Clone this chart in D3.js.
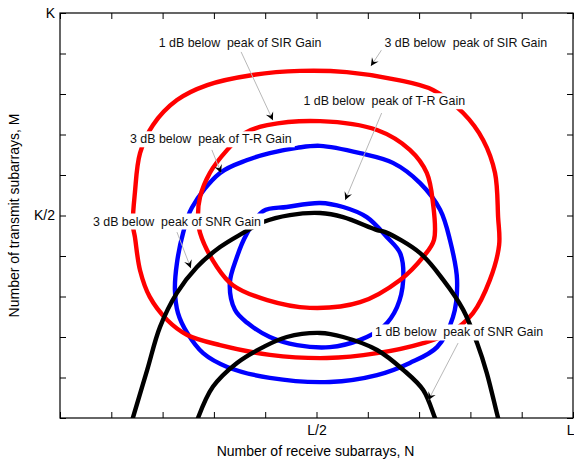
<!DOCTYPE html>
<html>
<head>
<meta charset="utf-8">
<script src="https://cdn.jsdelivr.net/npm/d3@7"></script>
<style>
  body { margin: 0; background: #fff; }
  svg { font-family: "Liberation Sans", Arial, sans-serif; }
</style>
</head>
<body>
<div id="chart"></div>
<script>
// N and M in percent of L and K
const xTickValues = [0, 10, 20, 30, 40, 50, 60, 70, 80, 90, 100];
const yTickValues = [0, 10, 20, 30, 40, 50, 60, 70, 80, 90, 100];
const xTickLabels = { 50: "L/2", 100: "L" };
const yTickLabels = { 50: "K/2", 100: "K" };

// 3 dB below peak of SIR gain
const redOuter = [[14.2,47.7],[14.6,55.6],[15.6,65.4],[18.1,72.3],[22.8,78.5],[28.7,82.2],[37.6,84.7],[46.8,85.7],
  [55.9,85.4],[65.7,83.5],[72.7,81.0],[78.6,75.3],[82.5,68.6],[84.8,60.5],[85.4,49.6],[85.6,42.7],[83.8,34.1],
  [80.5,25.9],[76.0,21.0],[70.8,18.5],[61.8,16.0],[52.0,14.8],[40.9,15.6],[31.2,18.0],[24.8,20.5],[20.9,24.2],
  [17.5,29.9],[15.6,36.5],[14.6,44.7]];
// 1 dB below peak of SIR gain
const redInner = [[26.9,50.1],[27.3,54.6],[29.2,60.5],[32.6,66.2],[36.1,70.4],[40.4,72.3],[50.7,73.3],[61.8,71.1],
  [68.2,66.2],[71.5,60.5],[72.7,53.1],[72.9,44.0],[70.8,39.8],[66.3,34.1],[58.5,28.6],[48.7,27.2],[40.4,29.1],
  [33.7,32.8],[30.6,37.3],[27.3,45.7]];
// 3 dB below peak of T-R gain
const blueOuter = [[22.4,31.6],[22.8,38.3],[24.0,45.7],[25.7,51.9],[31.2,60.5],[36.5,63.7],[40.9,65.4],[46.2,66.7],
  [50.7,67.2],[58.5,65.4],[64.9,63.0],[70.2,58.0],[74.1,51.4],[76.0,44.0],[77.4,34.1],[76.6,24.9],[73.5,17.5],
  [68.2,13.6],[61.8,10.6],[52.6,8.9],[40.9,9.9],[32.6,12.6],[27.9,16.0],[24.8,21.0],[23.0,25.9]];
// 1 dB below peak of T-R gain
const blueInner = [[33.1,33.3],[34.5,39.8],[36.3,45.2],[39.6,51.1],[44.2,52.1],[50.7,53.1],[55.2,52.1],[59.8,49.6],
  [63.7,44.7],[66.3,40.7],[66.9,34.1],[65.7,27.4],[63.0,22.5],[58.5,19.3],[52.6,17.5],[46.2,18.0],[40.9,20.0],
  [36.5,23.5],[34.1,26.7]];
// 3 dB below peak of SNR gain
const blackOuter = [[13.8,-1.7],[14.2,0],[17.0,11.9],[19.5,22.5],[22.8,30.9],[26.7,37.3],[31.2,42.2],[35.7,45.7],
  [39.6,48.4],[44.8,50.1],[50.7,50.6],[55.2,49.6],[61.8,46.4],[63.4,45.9],[70.2,40.7],[74.7,34.1],[78.6,26.7],
  [81.3,18.5],[83.2,11.1],[85.4,0],[85.8,-1.7]];
// 1 dB below peak of SNR gain
const blackInner = [[26.5,-1.7],[26.9,0],[29.8,7.7],[34.5,13.6],[39.6,17.5],[44.2,20.0],[50.7,21.0],[55.2,20.0],
  [61.8,16.8],[66.9,11.9],[70.8,6.9],[73.1,0],[73.7,-1.7]];

const labelTexts = ["1 dB below  peak of SIR Gain", "3 dB below  peak of SIR Gain", "1 dB below  peak of T-R Gain",
  "3 dB below  peak of T-R Gain", "3 dB below  peak of SNR Gain", "1 dB below  peak of SNR Gain"];
const labelAt = [[35.1,92.6],[79.1,92.8],[63.2,78.3],[29.4,68.9],[22.8,48.6],[77.8,21.2]];
const arrowFrom = [[35.3,90.4],[62.7,90.9],[62.7,75.3],[29.6,66.2],[22.8,45.9],[77.6,18.5]];
const arrowTip = [[41.5,73.5],[60.6,86.9],[55.6,53.8],[31.4,60.5],[25.5,37.0],[71.8,4.4]];

const W = 574, H = 462;
const margin = { top: 13, right: 1, bottom: 44, left: 60 };
const innerW = W - margin.left - margin.right;
const innerH = H - margin.top - margin.bottom;

const svg = d3.select("#chart").append("svg")
    .attr("width", W)
    .attr("height", H);

const g = svg.append("g")
    .attr("transform", `translate(${margin.left},${margin.top})`);

const x = d3.scaleLinear().domain([0, 100]).range([0, innerW]);
const y = d3.scaleLinear().domain([0, 100]).range([innerH, 0]);

g.append("clipPath").attr("id", "clip")
  .append("rect").attr("width", innerW).attr("height", innerH);

// axes, ticks pointing inward
const axisStyle = sel => {
    sel.selectAll("path.domain").remove();
    sel.selectAll("line").attr("stroke", "#000");
    sel.selectAll("text").style("font-size", "14px").attr("fill", "#000");
};

const xAxisG = g.append("g").attr("transform", `translate(0,${innerH})`)
    .call(d3.axisBottom(x).tickValues(xTickValues).tickSizeInner(-6).tickSizeOuter(0).tickPadding(7)
        .tickFormat(d => xTickLabels[d] || ""))
    .call(axisStyle);
// last label sits at the window edge
xAxisG.selectAll(".tick text")
    .filter(d => d === 100)
    .attr("text-anchor", "end")
    .attr("x", 1);

g.append("g")
    .call(d3.axisTop(x).tickValues(xTickValues).tickSizeInner(-6).tickSizeOuter(0).tickFormat(""))
    .call(axisStyle);
g.append("g")
    .call(d3.axisLeft(y).tickValues(yTickValues).tickSizeInner(-6).tickSizeOuter(0).tickPadding(5)
        .tickFormat(d => yTickLabels[d] || ""))
    .call(axisStyle);
g.append("g").attr("transform", `translate(${innerW},0)`)
    .call(d3.axisRight(y).tickValues(yTickValues).tickSizeInner(-6).tickSizeOuter(0).tickFormat(""))
    .call(axisStyle);

g.append("rect")
    .attr("width", innerW).attr("height", innerH)
    .attr("fill", "none").attr("stroke", "#000").attr("stroke-width", 1.2);

// contours
const closedLine = d3.line().x(d => x(d[0])).y(d => y(d[1])).curve(d3.curveCatmullRomClosed);
const openLine = d3.line().x(d => x(d[0])).y(d => y(d[1])).curve(d3.curveCatmullRom);

const curves = g.append("g").attr("clip-path", "url(#clip)");
const contours = [
    { pts: blueOuter, color: "#0000ff", closed: true },
    { pts: blueInner, color: "#0000ff", closed: true },
    { pts: redOuter, color: "#ff0000", closed: true },
    { pts: redInner, color: "#ff0000", closed: true },
    { pts: blackOuter, color: "#000000", closed: false },
    { pts: blackInner, color: "#000000", closed: false }
];
curves.selectAll(".contour")
    .data(contours)
    .enter()
    .append("path")
    .attr("class", "contour")
    .attr("fill", "none")
    .attr("stroke", d => d.color)
    .attr("stroke-width", 4.4)
    .attr("stroke-linejoin", "round")
    .attr("d", d => d.closed ? closedLine(d.pts) : openLine(d.pts));

// annotations
const notes = labelTexts.map((t, i) => ({ text: t, at: labelAt[i], from: arrowFrom[i], tip: arrowTip[i] }));

const ann = g.append("g");
ann.selectAll(".lead")
    .data(notes)
    .enter()
    .append("line")
    .attr("class", "lead")
    .attr("x1", d => x(d.from[0])).attr("y1", d => y(d.from[1]))
    .attr("x2", d => x(d.tip[0])).attr("y2", d => y(d.tip[1]))
    .attr("stroke", "#b8b8b8")
    .attr("stroke-width", 1);

ann.selectAll(".head")
    .data(notes)
    .enter()
    .append("path")
    .attr("class", "head")
    .attr("d", "M0,0L-8,-4L-5,0L-8,4Z")
    .attr("fill", "#000")
    .attr("transform", d => {
        const dx = x(d.tip[0]) - x(d.from[0]);
        const dy = y(d.tip[1]) - y(d.from[1]);
        const a = Math.atan2(dy, dx) * 180 / Math.PI;
        return `translate(${x(d.tip[0])},${y(d.tip[1])}) rotate(${a})`;
    });

const label = ann.selectAll(".note")
    .data(notes)
    .enter()
    .append("g")
    .attr("class", "note")
    .attr("transform", d => `translate(${x(d.at[0])},${y(d.at[1])})`);

label.append("rect").attr("fill", "#fff");
label.append("text")
    .attr("text-anchor", "middle")
    .attr("dy", "0.35em")
    .style("font-size", "12.4px")
    .style("white-space", "pre")
    .attr("fill", "#111")
    .text(d => d.text);

label.each(function() {
    const gg = d3.select(this);
    const bb = gg.select("text").node().getBBox();
    gg.select("rect")
        .attr("x", bb.x - 3).attr("y", bb.y - 1)
        .attr("width", bb.width + 6).attr("height", bb.height + 2);
});

// axis titles
svg.append("text")
    .attr("x", margin.left + innerW / 2 - 1)
    .attr("y", 456)
    .attr("text-anchor", "middle")
    .style("font-size", "14px")
    .text("Number of receive subarrays, N");

svg.append("text")
    .attr("transform", `translate(19,${margin.top + innerH / 2}) rotate(-90)`)
    .attr("text-anchor", "middle")
    .style("font-size", "14px")
    .text("Number of transmit subarrays, M");
</script>
</body>
</html>
